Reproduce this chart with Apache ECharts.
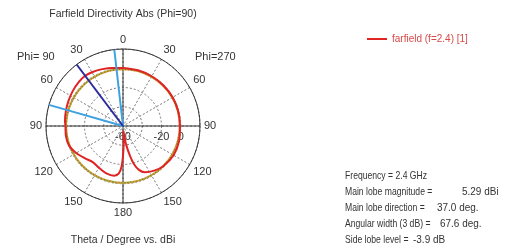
<!DOCTYPE html>
<html>
<head>
<meta charset="utf-8">
<script src="https://cdn.jsdelivr.net/npm/echarts@6/dist/echarts.min.js"></script>
<style>
  html, body { margin: 0; padding: 0; background: #fff; }
  #main { width: 510px; height: 248px; }
</style>
</head>
<body>
<div id="main"></div>
<script>
// theta (deg, counter-clockwise from top, Phi=90 side first) and directivity in dBi
var thetaList = [0, 10, 20, 30, 37, 45, 55, 65, 75, 85, 90, 100, 110, 120, 130, 140, 150, 160, 170, 175,
    178, 180, 182, 185, 188, 190, 193, 196, 200, 205, 215, 225, 240, 255, 270, 285, 300, 315, 330, 345, 360];
var dirValues = [0.3, 1.3, 2.9, 4.5, 5.29, 4.8, 3.6, 2.4, 1.4, 0.5, -0.2, 0.2, -0.4, -3.9, -8, -11, -10, -8, -7.6, -10.5,
    -18, -29, -41, -55, -47, -39, -29, -19, -11.5, -7, -3.4, -0.9, 0.7, 0.3, -0.8, -0.6, -0.5, -0.4, -0.3, -0.1, 0.3];
var refLevel = -1.0;          // green / orange reference ring
var mainLobeDir = 37;         // dark blue
var beamEdges = [6.5, 74.1];  // light blue, 3 dB width 67.6
var radiusTicks = [-60, -20, 0];
var infoLines = ['Frequency = 2.4 GHz', 'Main lobe magnitude =', 'Main lobe direction =', 'Angular width (3 dB) =', 'Side lobe level ='];
var infoValues = ['', '5.29 dBi', '37.0 deg.', '67.6 deg.', '-3.9 dB'];

var chart = echarts.init(document.getElementById('main'), null, { renderer: 'canvas' });
var font = 'Liberation Sans';
var ctr = [123, 126];

var curve = thetaList.map(function(t, i) { return [dirValues[i], t]; });
var ring = thetaList.map(function(t) { return [refLevel, t]; });

var texts = [];
texts.push({ type: 'text', x: 123, y: 14, style: { text: 'Farfield Directivity Abs (Phi=90)', font: '10.5px ' + font, fill: '#333', align: 'center', verticalAlign: 'middle' } });
texts.push({ type: 'text', x: 123, y: 240, style: { text: 'Theta / Degree vs. dBi', font: '10.5px ' + font, fill: '#333', align: 'center', verticalAlign: 'middle' } });
texts.push({ type: 'text', x: 17, y: 57, style: { text: 'Phi= 90', font: '11px ' + font, fill: '#333', verticalAlign: 'middle' } });
texts.push({ type: 'text', x: 195, y: 57, style: { text: 'Phi=270', font: '11px ' + font, fill: '#333', verticalAlign: 'middle' } });
var valueX = [0, 462, 437, 440, 413];
for (var i = 0; i < infoLines.length; i++) {
    texts.push({ type: 'text', x: 345, y: 176 + i * 16, scaleX: 0.82, style: { text: infoLines[i], font: '10.5px ' + font, fill: '#333', verticalAlign: 'middle' } });
    if (infoValues[i]) {
        texts.push({ type: 'text', x: valueX[i], y: 176 + i * 16, scaleX: 0.95, style: { text: infoValues[i], font: '10.5px ' + font, fill: '#333', verticalAlign: 'middle' } });
    }
}

var option = {
    animation: false,
    backgroundColor: '#fff',
    legend: {
        data: ['farfield (f=2.4) [1]'],
        left: 362,
        top: 29,
        icon: 'rect',
        itemWidth: 20,
        itemHeight: 2,
        itemGap: 6,
        textStyle: { color: '#d84848', fontSize: 10, fontFamily: font }
    },
    polar: [
        { center: ctr, radius: 77 },
        { center: ctr, radius: 77 }
    ],
    angleAxis: [{
        polarIndex: 0,
        type: 'value',
        min: 0,
        max: 360,
        interval: 30,
        startAngle: 90,
        clockwise: false,
        axisLine: { show: true, lineStyle: { color: '#333', width: 1 } },
        axisTick: { show: false },
        axisLabel: {
            margin: 4,
            color: '#333',
            fontSize: 11,
            fontFamily: font,
            formatter: function(v) {
                if (v >= 360) return '';
                return v <= 180 ? v : 360 - v;
            }
        },
        splitLine: { show: true, lineStyle: { type: [2, 2], color: '#777', width: 1 } }
    }, {
        polarIndex: 1,
        type: 'value',
        min: 0,
        max: 360,
        interval: 90,
        startAngle: 0,
        clockwise: false,
        axisLine: { show: false },
        axisTick: { show: false },
        axisLabel: { show: false },
        splitLine: { show: true, lineStyle: { color: '#333', width: 1 } }
    }],
    radiusAxis: [{
        polarIndex: 0,
        min: -60,
        max: 20,
        interval: 20,
        axisLine: { show: false },
        axisTick: { show: false },
        axisLabel: { show: false },
        splitLine: { show: true, lineStyle: { type: [2, 2], color: '#777', width: 1 } }
    }, {
        polarIndex: 1,
        min: -60,
        max: 20,
        interval: 20,
        axisLine: { show: false },
        axisTick: { show: false },
        splitLine: { show: false },
        axisLabel: {
            margin: -16,
            color: '#333',
            fontSize: 11,
            fontFamily: font,
            formatter: function(v) {
                return radiusTicks.indexOf(v) >= 0 ? String(v) : '';
            }
        }
    }],
    series: [{
        name: 'ref-orange',
        type: 'line',
        coordinateSystem: 'polar',
        polarIndex: 0,
        showSymbol: false,
        smooth: true,
        lineStyle: { color: '#d99a3a', width: 2 },
        data: ring,
        silent: true
    }, {
        name: 'ref-green',
        type: 'line',
        coordinateSystem: 'polar',
        polarIndex: 0,
        showSymbol: false,
        smooth: true,
        lineStyle: { color: '#4f9a2c', width: 1.5, type: [1, 2] },
        data: ring,
        silent: true
    }, {
        name: 'farfield (f=2.4) [1]',
        type: 'line',
        coordinateSystem: 'polar',
        polarIndex: 0,
        showSymbol: false,
        smooth: 0.3,
        lineStyle: { color: '#e02424', width: 2 },
        itemStyle: { color: '#e02424' },
        data: curve
    }, {
        name: 'beam1',
        type: 'line',
        coordinateSystem: 'polar',
        polarIndex: 0,
        showSymbol: false,
        lineStyle: { color: '#3ea2e2', width: 2 },
        data: [[-60, beamEdges[0]], [20, beamEdges[0]]]
    }, {
        name: 'beam2',
        type: 'line',
        coordinateSystem: 'polar',
        polarIndex: 0,
        showSymbol: false,
        lineStyle: { color: '#3ea2e2', width: 2 },
        data: [[-60, beamEdges[1]], [20, beamEdges[1]]]
    }, {
        name: 'mainlobe',
        type: 'line',
        coordinateSystem: 'polar',
        polarIndex: 0,
        showSymbol: false,
        lineStyle: { color: '#2a2a9e', width: 2 },
        data: [[-60, mainLobeDir], [20, mainLobeDir]]
    }],
    graphic: texts
};
chart.setOption(option);
</script>
</body>
</html>
